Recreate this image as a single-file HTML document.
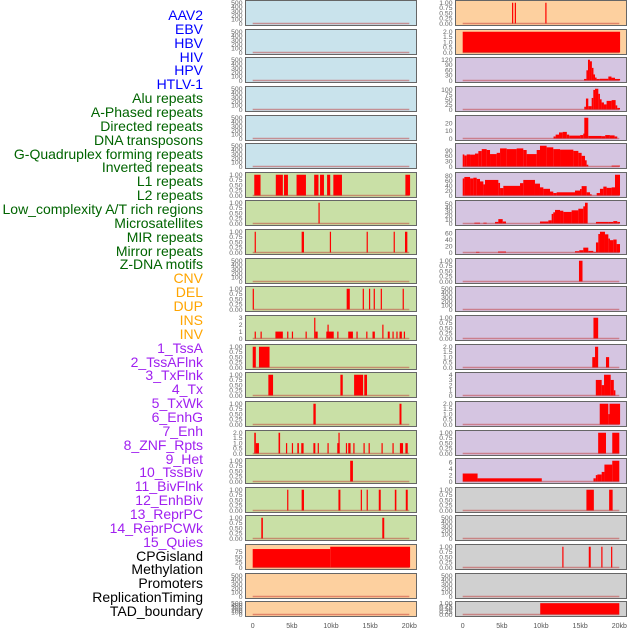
<!DOCTYPE html>
<html><head><meta charset="utf-8">
<style>
body{margin:0;width:630px;height:630px;overflow:hidden;background:#fff;position:relative;font-family:"Liberation Sans",sans-serif}
.lbl{position:absolute;right:427px;font-size:14px;line-height:14px;white-space:nowrap}
svg{position:absolute;left:0;top:0}
</style></head><body>
<div id="labels"></div>
<svg id="chart" width="630" height="630"></svg>
<script>
const labelNames=["AAV2","EBV","HBV","HIV","HPV","HTLV-1","Alu repeats","A-Phased repeats","Directed repeats","DNA transposons","G-Quadruplex forming repeats","Inverted repeats","L1 repeats","L2 repeats","Low_complexity A/T rich regions","Microsatellites","MIR repeats","Mirror repeats","Z-DNA motifs","CNV","DEL","DUP","INS","INV","1_TssA","2_TssAFlnk","3_TxFlnk","4_Tx","5_TxWk","6_EnhG","7_Enh","8_ZNF_Rpts","9_Het","10_TssBiv","11_BivFlnk","12_EnhBiv","13_ReprPC","14_ReprPCWk","15_Quies","CPGisland","Methylation","Promoters","ReplicationTiming","TAD_boundary"];
const labelGroups=[6,13,5,15,5];
const groupText=["#0000ff","#006400","#ffa500","#a020f0","#000000"];
const groupFill=["#c9e3ec","#c9e0a6","#fdd09f","#d5c5e1","#d0d0d0"];
const xTicks=[0,5,10,15,20];
const xTickLabels=["0","5kb","10kb","15kb","20kb"];
const T500=[0,100,200,300,400,500], T1=[0,0.25,0.5,0.75,1], T2=[0,0.5,1,1.5,2];
const L01=[],L02=[],L03=[],L04=[],L05=[],L06=[];
const L07=[[0.2,1.0,1],[2.95,3.85,1],[4.0,4.5,1],[5.6,6.8,1],[7.85,8.4,1],[8.6,9.1,1],[9.5,9.9,1],[10.3,11.4,1],[19.5,20.1,1]];
const L08=[[8.4,8.55,1]];
const L09=[[0.25,0.4,1],[6.25,6.55,1],[9.85,10.0,1],[14.55,14.7,1],[18.0,18.15,1],[19.45,19.75,1]];
const L10=[];
const L11=[[0,0.15,1],[12.0,12.4,1],[14.05,14.2,1],[14.85,15.0,1],[15.45,15.6,1],[16.35,16.5,1],[19.15,19.3,1]];
const L12=[[0.25,0.4,1],[1.0,1.15,1],[2.9,3.85,1],[4.4,4.55,1],[5.0,5.15,1],[6.75,6.9,1],[7.85,8.0,3],[8.0,8.3,1],[9.4,10.35,1],[9.55,9.7,2],[10.8,10.95,1],[12.2,12.8,1],[13.25,13.4,1],[14.5,14.65,1],[15.3,15.6,1],[16.55,16.7,2],[17.25,17.5,1],[17.85,18.0,1],[18.35,18.5,1],[18.75,19.05,1],[19.3,19.45,1]];
const L13=[[0,0.4,1],[0.8,2.15,1]];
const L14=[[2.0,2.6,1],[11.2,11.5,1],[12.95,14.1,1],[14.25,14.6,1]];
const L15=[[7.75,8.05,1],[18.75,19.0,1]];
const L16=[[0.2,0.4,2],[0.4,0.8,1],[3.3,3.5,2],[4.25,4.4,1],[5.0,5.15,1],[5.7,5.9,1],[6.2,6.5,1],[7.75,8.0,1],[8.3,8.45,1],[9.55,9.7,1],[10.8,11.1,1],[10.95,11.05,2],[11.9,12.05,1],[12.2,12.5,1],[12.85,13.0,1],[14.15,14.3,1],[14.8,14.95,1],[16.45,16.6,1],[17.85,18.0,1],[18.8,19.2,1],[19.5,19.8,1]];
const L17=[[12.45,12.8,1]];
const L18=[[4.4,4.55,1],[6.25,6.55,1],[10.95,11.2,1],[13.8,13.95,1],[14.55,14.7,1],[16.1,16.35,1],[18.15,18.35,1],[19.55,19.8,1]];
const L19=[[1.1,1.3,1],[16.55,16.8,1]];
const L20=[[0,9.9,88],[9.9,20.1,99]];
const L21=[],L22=[];
const R01=[[6.3,6.42,1],[6.65,6.77,1],[10.55,10.67,1]];
const R02=[[0,20.1,2]];
const R03=[[15.5,15.8,9],[15.8,16.0,59],[16.0,16.25,120],[16.25,16.5,111],[16.5,16.7,73],[16.7,16.9,35],[16.9,17.1,17],[17.1,17.5,9],[17.5,18.6,10],[18.6,19.0,23],[19.0,19.45,16],[19.45,20.1,9]];
const R04=[[15.53,15.74,14],[15.74,16.04,56],[16.04,16.47,17],[16.47,16.68,59],[16.68,16.9,100],[16.9,17.32,106],[17.32,17.53,80],[17.53,17.74,52],[17.74,18.04,36],[18.04,18.38,26],[18.38,19.02,44],[19.02,19.53,48],[19.53,19.74,21],[19.74,20.09,8]];
const R05=[[11.6,11.87,2.6],[11.87,12.3,5],[12.3,12.77,7.8],[12.77,13.3,8.5],[13.3,13.6,5],[13.6,15.0,3.7],[15.0,15.4,4.4],[15.4,15.53,6.3],[15.53,16.04,26.7],[16.04,17.74,3.3],[17.74,18.2,3],[18.2,18.8,4.4],[18.8,19.4,4],[19.4,19.74,2.6]];
const R06=[[0,0.21,68],[0.21,0.51,62],[0.51,0.94,68],[0.94,1.57,67],[1.57,2.0,73],[2.0,2.43,87],[2.43,3.06,98],[3.06,3.49,93],[3.49,4.34,70],[4.34,4.77,77],[4.77,5.62,102],[5.62,6.89,98],[6.89,7.74,102],[7.74,8.17,93],[8.17,9.45,70],[9.45,9.87,93],[9.87,10.72,117],[10.72,11.57,108],[11.57,12.43,98],[12.43,14.13,95],[14.13,14.77,88],[14.77,15.19,77],[15.19,15.62,60],[15.62,15.83,35],[15.83,16.04,10],[19.02,20.09,5]];
const R07=[[0,0.21,69],[0.21,0.94,75],[0.94,1.36,69],[1.36,1.79,72],[1.79,2.21,67],[2.21,2.64,57],[2.64,2.85,45],[2.85,4.55,63],[4.55,4.77,51],[4.77,5.19,30],[5.19,7.32,39],[7.32,7.74,50],[7.74,9.23,63],[9.23,9.87,48],[9.87,10.3,33],[10.3,11.15,27],[11.15,11.57,16],[11.57,12.0,10],[12.0,14.34,13],[14.34,14.98,20],[14.98,15.19,26],[15.19,15.83,38],[15.83,16.26,13],[16.26,16.47,5],[17.11,17.53,10],[17.53,17.96,27],[17.96,18.38,36],[18.38,19.02,31],[19.02,19.45,33],[19.45,20.09,84]];
const R08=[[1.49,2.21,2],[2.64,3.06,2],[4.13,4.55,4],[4.55,5.11,11],[5.11,5.53,5],[9.87,10.94,5],[10.94,11.36,8],[11.36,11.57,24],[11.57,11.79,28],[11.79,12.43,34],[12.43,12.85,32],[12.85,13.91,29],[13.91,14.77,33],[14.77,15.4,37],[15.4,15.62,43],[15.62,15.96,52],[17.02,18.6,4],[18.6,19.23,4],[19.23,19.74,6],[19.74,20.09,4]];
const R09=[[1.7,2.13,2],[4.51,5.53,3],[14.34,14.89,4],[14.89,15.4,7],[15.4,16.04,15],[16.04,16.68,5],[16.68,17.02,2],[17.02,17.32,31],[17.32,17.53,57],[17.53,18.17,64],[18.17,18.6,56],[18.6,18.81,43],[18.81,19.23,38],[19.23,19.66,40],[19.66,20.09,26]];
const R10=[[14.85,15.3,1]];
const R11=[];
const R12=[[16.7,17.3,1]];
const R13=[[16.55,16.9,1],[16.9,17.3,2],[18.3,18.7,1]];
const R14=[[17.0,17.75,3],[17.75,18.05,2],[18.05,18.9,4],[18.9,19.3,3],[19.3,19.5,1]];
const R15=[[17.5,18.6,2],[18.6,18.75,1],[18.75,20.1,2]];
const R16=[[17.3,18.3,1],[19.1,20.0,1]];
const R17=[[0,1.9,2.5],[1.9,10.1,1],[16.7,17.0,1],[17.0,17.2,2],[17.2,17.75,2.2],[17.75,18.1,3],[18.1,19.1,5.3],[19.1,20.0,6.5]];
const R18=[[15.8,16.75,1],[18.7,19.15,1]];
const R19=[];
const R20=[[12.72,12.84,1],[16.1,16.35,1],[17.7,17.82,1],[18.95,19.07,1]];
const R21=[];
const R22=[[9.9,20.0,1]];

const leftData=[L01,L02,L03,L04,L05,L06,L07,L08,L09,L10,L11,L12,L13,L14,L15,L16,L17,L18,L19,L20,L21,L22];
const rightData=[R01,R02,R03,R04,R05,R06,R07,R08,R09,R10,R11,R12,R13,R14,R15,R16,R17,R18,R19,R20,R21,R22];
const leftTicks=[T500,T500,T500,T500,T500,T500,T1,T1,T1,T500,T1,[0,1,2,3],T1,T1,T1,T2,T1,T1,T1,[0,25,50,75],T500,T500];
const rightTicks=[T1,T2,[0,30,60,90,120],[0,25,50,75,100],[0,10,20],[0,30,60,90],[0,20,40,60,80],[0,10,20,30,40,50],[0,20,40,60],T1,T500,T1,T2,[0,1,2,3,4],T2,T1,[0,2,4,6],T1,T500,T1,T500,T1];
const leftGroup=[0,0,0,0,0,0,1,1,1,1,1,1,1,1,1,1,1,1,1,2,2,2];
const rightGroup=[2,2,3,3,3,3,3,3,3,3,3,3,3,3,3,3,3,4,4,4,4,4];

const NS="http://www.w3.org/2000/svg";
const svg=document.getElementById('chart');
const rowTops=[0,29,57,86,115,143,172,200,229,258,286,315,344,372,401,430,458,487,515,544,573,601];
function mk(tag,attrs,parent){const e=document.createElementNS(NS,tag);for(const k in attrs)e.setAttribute(k,attrs[k]);(parent||svg).appendChild(e);return e;}

const labDiv=document.getElementById('labels');
let gi=0,cnt=0;
labelNames.forEach((n,i)=>{
  const d=document.createElement('div');d.className='lbl';d.textContent=n;
  d.style.top=(8+i*13.86)+'px';d.style.color=groupText[gi];
  
  
  labDiv.appendChild(d);
  cnt++;if(cnt>=labelGroups[gi]){gi++;cnt=0;}
});

function drawCol(px0,pw,kb0,data,ticks,groups,side){
  const xs=kb=>kb0+kb*7.83;
  data.forEach((segs,r)=>{
    const top=rowTops[r], h=(r===21?15:25);
    const g=mk('g',{});
    
    
    mk('rect',{x:px0,y:top+0.5,width:pw,height:h,fill:groupFill[groups[r]],stroke:'#666','stroke-width':1},g);
    const base=top+h-1.5, tk=ticks[r];
    let mx=tk[tk.length-1];segs.forEach(s=>{if(s[2]>mx)mx=s[2];});
    const ymax=mx*1.06, ys=v=>base-v/ymax*(h-3);
    segs.forEach(s=>{
      const b=mk('rect',{x:xs(s[0]),y:ys(s[2]),width:Math.max(1.2,xs(s[1])-xs(s[0])),height:base-ys(s[2]),fill:'#ff0000'},g);
      
      
    });
    mk('line',{x1:xs(0),x2:xs(20),y1:base,y2:base,stroke:'rgba(190,40,40,0.45)','stroke-width':1.5},g);
    tk.forEach(v=>{
      const t=mk('text',{x:px0-3,y:ys(v)+2.3,'font-size':6.8,fill:'#666','text-anchor':'end','font-family':'Liberation Sans, sans-serif'},g);
      t.textContent=(tk===T1)?v.toFixed(2):(tk===T2?v.toFixed(1):String(v));
    });
  });
  xTicks.forEach((v,i)=>{
    const t=mk('text',{x:xs(v),y:628,'font-size':7,fill:'#555','text-anchor':'middle','font-family':'Liberation Sans, sans-serif'});
    
    
    t.textContent=xTickLabels[i];
  });
}
drawCol(245.5,171,252.7,leftData,leftTicks,leftGroup,'left');
drawCol(455.5,171,462.7,rightData,rightTicks,rightGroup,'right');
</script>
</body></html>
